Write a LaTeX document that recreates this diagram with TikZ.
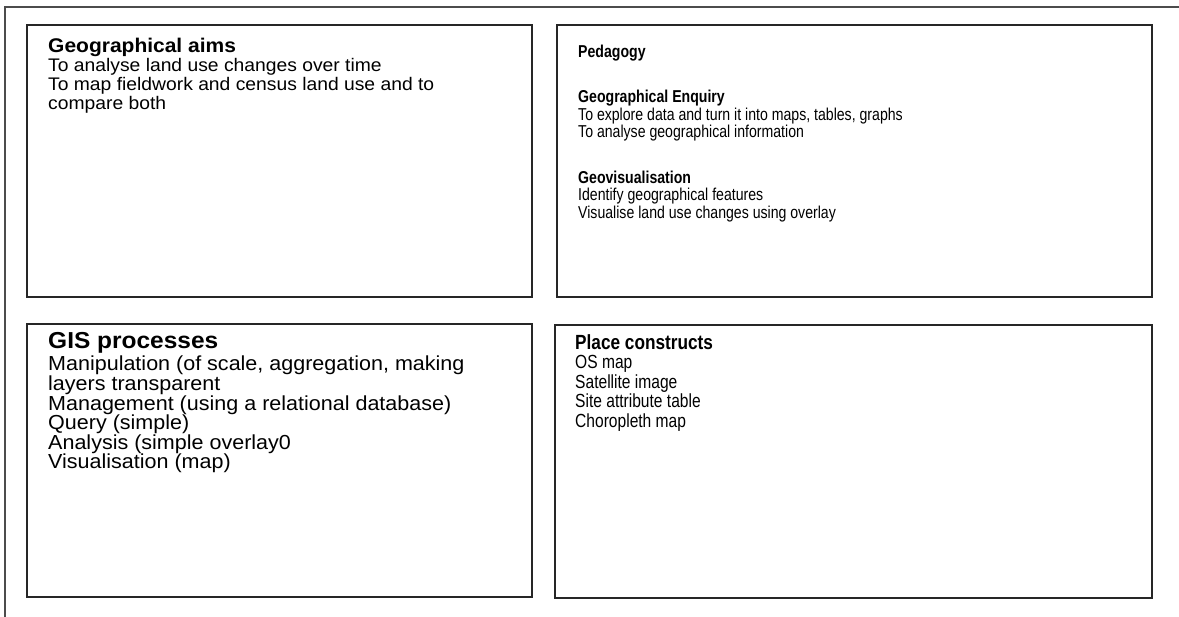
\documentclass[tikz,border=0pt]{standalone}
\usepackage{fontspec}
\setmainfont{Liberation Sans}
\newfontfamily\widefont[FakeStretch=1.06]{Liberation Sans}
\newfontfamily\narrowfont[FakeStretch=0.82]{Liberation Sans}
\newfontfamily\narrowboldfont[FakeStretch=0.84]{Liberation Sans Bold}
\setlength{\lineskiplimit}{-20pt}

\begin{document}
\begin{tikzpicture}[x=1pt, y=-1pt,
  panel/.style={draw=black!85, line width=1.3pt, inner sep=0pt},
  txt/.style={inner sep=0pt, align=left, anchor=north west},
  head/.style={inner sep=0pt, anchor=base west}]
\useasboundingbox (0,0) rectangle (1179,617);
\draw[black!70, line width=1.3pt] (5,617) -- (5,7) -- (1179,7);

\node[panel, minimum width=505pt, minimum height=272pt] (aims)  at (279.5,161) {};
\node[panel, minimum width=595pt, minimum height=272pt] (pedag) at (854.5,161) {};
\node[panel, minimum width=505pt, minimum height=273pt] (gis)   at (279.5,460.5) {};
\node[panel, minimum width=597pt, minimum height=273pt] (place) at (853.5,461.5) {};

\node[head, font=\widefont\bfseries\fontsize{19.8}{23}\selectfont] (aimshead) at (48,53) {Geographical aims};
\node[txt, font=\widefont\fontsize{18.2}{19}\selectfont] (aimsbody) at (48,58.3)
  {To analyse land use changes over time\\
   To map fieldwork and census land use and to\\
   compare both};

\node[txt, font=\narrowfont\fontsize{17.2}{17.5}\selectfont] (pedagbody) at (578,44.5)
  {\textbf{Pedagogy}\\[28pt]
   \textbf{Geographical Enquiry}\\
   To explore data and turn it into maps, tables, graphs\\
   To analyse geographical information\\[28pt]
   \textbf{Geovisualisation}\\
   Identify geographical features\\
   Visualise land use changes using overlay};

\node[head, font=\widefont\bfseries\fontsize{23.1}{26}\selectfont] (gishead) at (48,349) {GIS processes};
\node[txt, font=\widefont\fontsize{20.3}{19.6}\selectfont] (gisbody) at (48,355.9)
  {Manipulation (of scale, aggregation, making\\
   layers transparent\\
   Management (using a relational database)\\
   Query (simple)\\
   Analysis (simple overlay0\\
   Visualisation (map)};

\node[head, font=\narrowboldfont\fontsize{20.5}{22}\selectfont] (placehead) at (575,350) {Place constructs};
\node[txt, font=\narrowfont\fontsize{19}{19.5}\selectfont] (placebody) at (575,355.5)
  {OS map\\
   Satellite image\\
   Site attribute table\\
   Choropleth map};
\end{tikzpicture}
\end{document}
